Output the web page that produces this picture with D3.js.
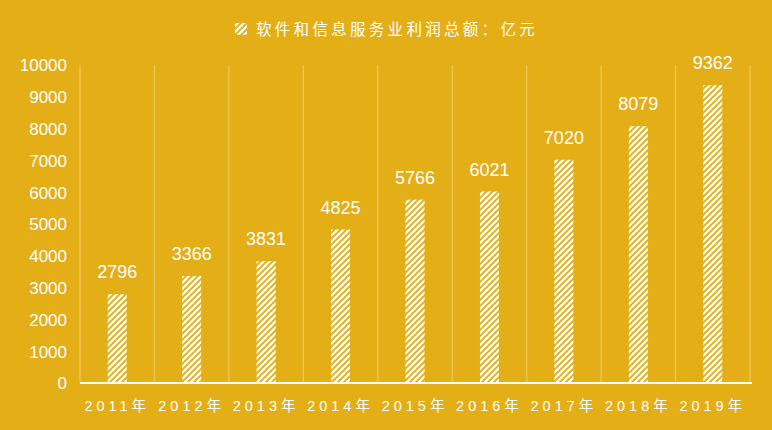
<!DOCTYPE html>
<html><head><meta charset="utf-8">
<script src="https://cdn.jsdelivr.net/npm/d3@7"></script>
<style>
html,body{margin:0;padding:0;background:#E4AE17;}
svg{display:block;}
</style></head>
<body>
<script>
const categories = ["2011年","2012年","2013年","2014年","2015年","2016年","2017年","2018年","2019年"];
const values = [2796, 3366, 3831, 4825, 5766, 6021, 7020, 8079, 9362];
const yTicks = [0,1000,2000,3000,4000,5000,6000,7000,8000,9000,10000];
const seriesName = "软件和信息服务业利润总额：亿元";

const W = 772, H = 430;
const bg = "#E4AE17";
const svg = d3.select("body").append("svg").attr("width", W).attr("height", H);
svg.append("rect").attr("width", W).attr("height", H).attr("fill", bg);

const defs = svg.append("defs");
const pat = defs.append("pattern").attr("id","hatch").attr("patternUnits","userSpaceOnUse")
  .attr("width",6).attr("height",6);
pat.append("rect").attr("width",6).attr("height",6).attr("fill","#fff");
pat.append("path").attr("d","M-1.5,1.5 l3,-3 M0,6 l6,-6 M4.5,7.5 l3,-3").attr("stroke",bg).attr("stroke-width",1.9);

const x = d3.scaleBand().domain(categories).range([80, 750]);
const y = d3.scaleLinear().domain([0, 10000]).range([383, 65]);

// vertical gridlines
const gl = x.domain().map(d => x(d)).concat([x.range()[1]]);
svg.append("g").selectAll("line").data(gl).join("line")
  .attr("x1", d=>d).attr("x2", d=>d).attr("y1", y(10000)).attr("y2", y(0))
  .attr("stroke", "#EDC55A").attr("stroke-width", 1.3);

// y axis labels
const yAxis = d3.axisLeft(y).tickValues(yTicks).tickSize(0).tickPadding(0).tickFormat(d3.format("d"));
const ya = svg.append("g").attr("transform","translate(67,0)").call(yAxis);
ya.select(".domain").remove();
ya.selectAll("text").attr("fill","#fff").attr("font-family","Liberation Sans, Arial, sans-serif")
  .attr("font-size", 17).attr("dy","0.35em");

// bars
const bw = 19;
svg.append("g").selectAll("rect").data(values).join("rect")
  .attr("x", (d,i)=> x(categories[i]) + x.bandwidth()/2 - bw/2)
  .attr("width", bw)
  .attr("y", d => y(d))
  .attr("height", d => y(0) - y(d))
  .attr("fill", "url(#hatch)");

// value labels
svg.append("g").selectAll("text").data(values).join("text")
  .attr("x", (d,i)=> x(categories[i]) + x.bandwidth()/2)
  .attr("y", d => y(d) - 16)
  .attr("text-anchor","middle")
  .attr("fill","#fff").attr("font-family","Liberation Sans, Arial, sans-serif")
  .attr("font-size", 18)
  .text(d => d);

// baseline
svg.append("line").attr("x1", 80).attr("x2", 752).attr("y1", y(0)).attr("y2", y(0))
  .attr("stroke","#fff").attr("stroke-width",2);

// x labels
const xAxis = d3.axisBottom(x).tickSize(0).tickPadding(0);
const xa = svg.append("g").attr("transform",`translate(0,${y(0)})`).call(xAxis);
xa.select(".domain").remove();
xa.selectAll("text").attr("fill","#fff").attr("font-family","Liberation Sans, 'Noto Sans CJK SC', sans-serif")
  .attr("font-size", 14.5).attr("letter-spacing","4px").attr("y", 28).attr("dy", null);

// legend / title
const lg = svg.append("g");
lg.append("rect").attr("x", 235).attr("y", 23).attr("width", 12).attr("height", 12).attr("fill","url(#hatch)");
lg.append("text").attr("x", 256).attr("y", 35).attr("fill","#fff")
  .attr("font-family","'Noto Sans CJK SC', sans-serif").attr("font-size", 15.5)
  .attr("letter-spacing","3.3px").text(seriesName);
</script>
</body></html>
